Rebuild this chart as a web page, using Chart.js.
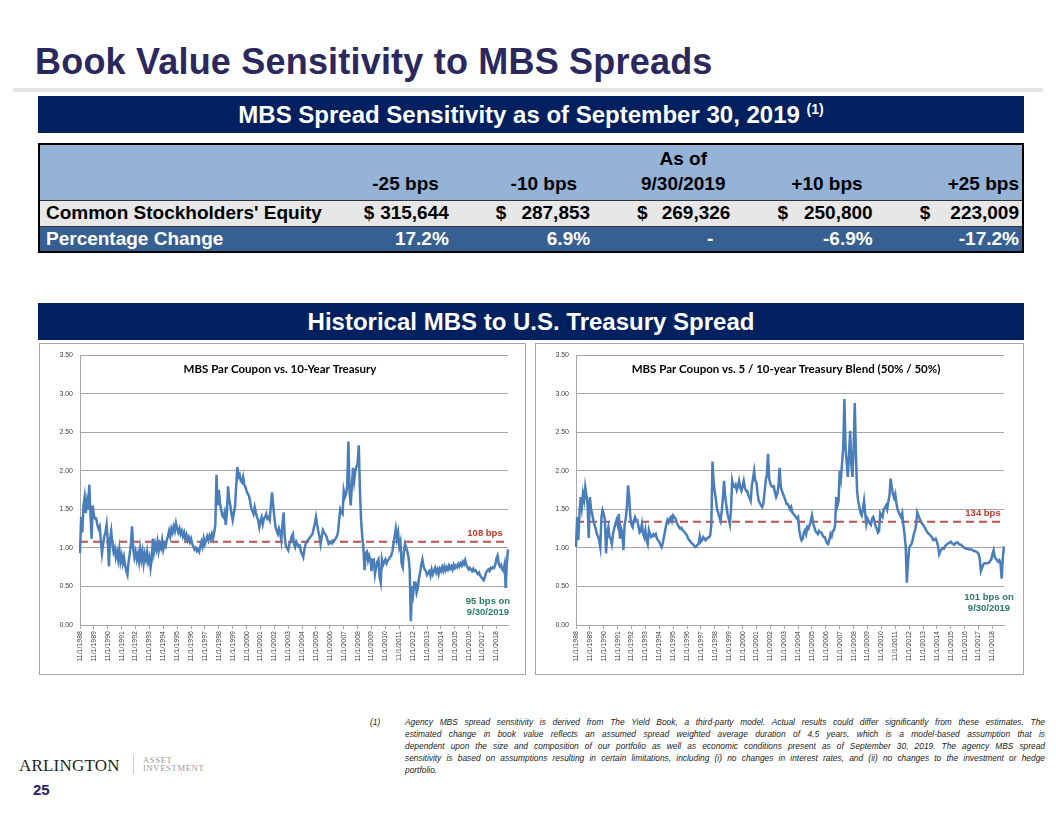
<!DOCTYPE html>
<html>
<head>
<meta charset="utf-8">
<script src="https://cdn.jsdelivr.net/npm/chart.js@4.4.0/dist/chart.umd.min.js"></script>
<style>
  body { margin: 0; width: 1056px; height: 816px; position: relative; background: #fff; overflow: hidden;
         font-family: 'Liberation Sans', Arial, sans-serif; }
  .abs { position: absolute; }
  #title { left: 35px; top: 41px; font-size: 36px; letter-spacing: 0.2px; font-weight: bold; color: #2A285E; white-space: nowrap; }
  #rule { left: 13px; top: 88px; width: 1030px; height: 4px; background: #E4E4E4; }
  .banner { left: 38px; width: 986px; height: 37px; background: #002060; color: #fff; font-weight: bold;
            font-size: 24px; text-align: center; line-height: 37px; white-space: nowrap; }
  .banner sup { font-size: 14px; vertical-align: 9px; line-height: 0; }
  #sens { left: 38px; top: 143px; width: 986px; border-collapse: collapse; border: 2px solid #000;
          font-weight: bold; font-size: 19px; table-layout: fixed; }
  #sens td { padding: 0 3px 0 0; text-align: right; white-space: nowrap; }
  #sens td.lbl { text-align: left; padding-left: 6px; }
  #sens tr.hd { background: #95B3D7; height: 56px; }
  #sens tr.hd td { vertical-align: bottom; padding-bottom: 4px; line-height: 25px; }
  #sens tr.eq { background: #E7E7E7; height: 26px; border-top: 1px solid #333; }
  #sens tr.pc { background: #376092; color: #fff; height: 26px; border-top: 1px solid #333; }
  #sens .acc { display: flex; justify-content: space-between; }
  .box { border: 1px solid #A6A6A6; background: #fff; }
  .box canvas { display: block; }
  #note { left: 370px; top: 716px; font-style: italic; font-size: 8.4px; color: #222; line-height: 12px; }
  #note .ln { width: 640px; margin-left: 35px; text-align: justify; text-align-last: justify; white-space: nowrap; }
  #note .ln.last { text-align-last: left; }
  #note .num { position: absolute; left: 0; top: 0; }
  #logo { left: 19px; top: 756px; font-family: 'Liberation Serif', 'DejaVu Serif', serif; font-size: 17px;
          letter-spacing: 0.2px; color: #231F20; }
  #sep { left: 133px; top: 755px; width: 1px; height: 19px; background: #CFCFCF; }
  #logo2 { left: 143px; top: 757px; font-family: 'Liberation Serif', serif; font-size: 8.5px; line-height: 7.5px;
           color: #9A9A9A; letter-spacing: 0.7px; }
  #page { left: 33px; top: 781px; font-size: 15px; font-weight: bold; color: #262262; }
</style>
</head>
<body>
<div id="title" class="abs">Book Value Sensitivity to MBS Spreads</div>
<div id="rule" class="abs"></div>
<div class="abs banner" style="top:96px">MBS Spread Sensitivity as of September 30, 2019 <sup>(1)</sup></div>
<table id="sens" class="abs"></table>
<div class="abs banner" style="top:303px">Historical MBS to U.S. Treasury Spread</div>

<div class="abs box" style="left:39px; top:343px; width:485px; height:330px;">
  <canvas id="chart10y" width="485" height="330"></canvas>
</div>
<div class="abs box" style="left:535px; top:343px; width:487px; height:330px;">
  <canvas id="chartBlend" width="487" height="330"></canvas>
</div>

<div id="note" class="abs">
  <span class="num">(1)</span>
  <div class="ln">Agency MBS spread sensitivity is derived from The Yield Book, a third-party model. Actual results could differ significantly from these estimates. The</div>
  <div class="ln">estimated change in book value reflects an assumed spread weighted average duration of 4.5 years, which is a model-based assumption that is</div>
  <div class="ln">dependent upon the size and composition of our portfolio as well as economic conditions present as of September 30, 2019. The agency MBS spread</div>
  <div class="ln">sensitivity is based on assumptions resulting in certain limitations, including (i) no changes in interest rates, and (ii) no changes to the investment or hedge</div>
  <div class="ln last">portfolio.</div>
</div>
<div id="logo" class="abs">ARLINGTON</div>
<div id="sep" class="abs"></div>
<div id="logo2" class="abs">ASSET<br>INVESTMENT</div>
<div id="page" class="abs">25</div>

<script>
// table
const scenarios = ['-25 bps', '-10 bps', 'As of\n9/30/2019', '+10 bps', '+25 bps'];
const equity = ['315,644', '287,853', '269,326', '250,800', '223,009'];
const pctChange = ['17.2%', '6.9%', '-', '-6.9%', '-17.2%'];
const colWidths = [320, 92, 141, 140, 142, 147];

// chart data, monthly from 11/1988 to 9/2019 (percent)
const spread10y = [
  0.93, 1.40,
  1.20, 1.55, 1.66, 1.45, 1.60, 1.50, 1.82, 1.45, 1.12, 1.55, 1.42, 1.38, // 1989
  1.38, 1.30, 1.25, 1.28, 1.10, 0.93, 1.05, 1.15, 1.20, 1.30, 1.10, 0.76, // 1990
  1.12, 1.22, 1.05, 0.95, 1.00, 0.88, 0.95, 0.85, 0.98, 0.82, 0.90, 0.80, // 1991
  0.88, 0.78, 0.70, 0.65, 0.82, 0.92, 1.05, 1.28, 1.00, 0.88, 0.95, 0.85, // 1992
  0.92, 0.82, 0.98, 0.85, 0.95, 0.80, 0.92, 0.85, 0.95, 0.82, 0.88, 0.74, // 1993
  0.85, 1.12, 0.95, 1.05, 0.98, 1.08, 0.96, 1.05, 1.00, 1.10, 0.98, 1.05, // 1994
  1.02, 1.10, 1.15, 1.22, 1.15, 1.25, 1.20, 1.28, 1.22, 1.32, 1.25, 1.20, // 1995
  1.25, 1.18, 1.22, 1.15, 1.20, 1.12, 1.17, 1.10, 1.14, 1.08, 1.12, 1.05, // 1996
  1.02, 0.98, 1.00, 0.96, 0.98, 0.95, 1.02, 1.08, 1.02, 1.12, 1.05, 1.10, // 1997
  1.15, 1.10, 1.16, 1.12, 1.18, 1.12, 1.20, 1.30, 1.95, 1.55, 1.75, 1.58, // 1998
  1.50, 1.42, 1.40, 1.46, 1.30, 1.45, 1.80, 1.62, 1.55, 1.44, 1.36, 1.45, // 1999
  1.53, 1.80, 2.05, 1.92, 1.95, 1.87, 1.85, 1.92, 1.82, 1.79, 1.74, 1.70, // 2000
  1.68, 1.61, 1.52, 1.48, 1.44, 1.53, 1.46, 1.40, 1.36, 1.27, 1.35, 1.40, // 2001
  1.31, 1.38, 1.40, 1.44, 1.38, 1.40, 1.36, 1.55, 1.72, 1.55, 1.40, 1.27, // 2002
  1.22, 1.18, 1.25, 1.20, 1.10, 1.30, 1.46, 1.14, 1.02, 1.00, 0.97, 1.05, // 2003
  1.08, 1.15, 1.18, 1.05, 1.01, 1.08, 1.05, 1.02, 1.03, 0.95, 0.92, 0.88, // 2004
  0.98, 1.05, 1.08, 1.10, 1.12, 1.14, 1.16, 1.18, 1.25, 1.32, 1.40, 1.30, // 2005
  1.22, 1.15, 1.05, 1.15, 1.23, 1.20, 1.18, 1.15, 1.10, 1.05, 1.06, 1.08, // 2006
  1.06, 1.10, 1.10, 1.12, 1.15, 1.20, 1.36, 1.50, 1.46, 1.44, 1.74, 1.66, // 2007
  1.70, 1.80, 2.38, 1.74, 1.55, 1.80, 2.04, 1.87, 2.00, 2.05, 2.10, 2.33, // 2008
  1.74, 1.36, 1.15, 1.00, 0.71, 0.93, 0.95, 0.84, 0.90, 0.85, 0.70, 0.85, // 2009
  0.85, 0.66, 0.75, 0.82, 0.85, 0.62, 0.55, 0.85, 0.78, 0.82, 0.85, 0.80, // 2010
  0.84, 0.85, 0.88, 0.90, 0.95, 1.05, 1.15, 1.25, 1.12, 1.20, 1.02, 1.08, // 2011
  0.80, 0.75, 0.95, 1.05, 1.00, 0.95, 0.88, 0.72, 0.05, 0.50, 0.40, 0.55, // 2012
  0.55, 0.42, 0.48, 0.60, 0.68, 0.78, 0.85, 0.76, 0.72, 0.70, 0.65, 0.68, // 2013
  0.70, 0.64, 0.72, 0.66, 0.70, 0.74, 0.68, 0.72, 0.66, 0.73, 0.70, 0.75, // 2014
  0.70, 0.76, 0.71, 0.75, 0.72, 0.77, 0.73, 0.76, 0.72, 0.78, 0.74, 0.77, // 2015
  0.75, 0.79, 0.76, 0.80, 0.77, 0.82, 0.79, 0.84, 0.78, 0.75, 0.72, 0.74, // 2016
  0.72, 0.70, 0.73, 0.70, 0.71, 0.68, 0.66, 0.68, 0.64, 0.62, 0.60, 0.58, // 2017
  0.62, 0.68, 0.70, 0.72, 0.70, 0.74, 0.73, 0.75, 0.74, 0.78, 0.86, 0.90, // 2018
  0.80, 0.76, 0.78, 0.72, 0.70, 0.78, 0.48, 0.80, 0.98                    // 2019
];
const spreadBlend = [
  1.01, 1.40,
  1.10, 1.44, 1.66, 1.53, 1.70, 1.62, 1.79, 1.68, 1.57, 1.13, 1.66, 1.50, // 1989
  1.44, 1.36, 1.30, 1.25, 1.18, 1.15, 1.10, 1.01, 1.40, 1.49, 1.44, 1.36, // 1990
  0.93, 1.20, 1.27, 1.14, 1.12, 1.05, 1.18, 1.25, 1.31, 1.36, 1.30, 1.44, // 1991
  1.12, 1.25, 1.20, 0.97, 1.30, 1.38, 1.53, 1.81, 1.66, 1.40, 1.30, 1.27, // 1992
  1.35, 1.40, 1.36, 1.36, 1.28, 1.20, 1.22, 1.31, 1.18, 1.14, 1.23, 1.10, // 1993
  1.05, 1.23, 1.18, 1.14, 1.15, 1.18, 1.16, 1.18, 1.12, 1.10, 1.08, 1.04, // 1994
  1.01, 1.06, 1.14, 1.22, 1.30, 1.36, 1.33, 1.38, 1.40, 1.35, 1.42, 1.40, // 1995
  1.38, 1.33, 1.30, 1.27, 1.25, 1.26, 1.23, 1.22, 1.20, 1.18, 1.16, 1.12, // 1996
  1.10, 1.08, 1.06, 1.05, 1.03, 1.01, 1.02, 1.04, 1.05, 1.15, 1.08, 1.10, // 1997
  1.14, 1.12, 1.10, 1.12, 1.13, 1.14, 1.16, 1.30, 2.12, 1.85, 1.72, 1.62, // 1998
  1.50, 1.45, 1.40, 1.35, 1.48, 1.65, 1.87, 1.66, 1.55, 1.44, 1.38, 1.31, // 1999
  1.50, 1.87, 1.80, 1.79, 1.82, 1.75, 1.80, 1.87, 1.78, 1.74, 1.80, 1.87, // 2000
  1.78, 1.74, 1.74, 1.68, 1.65, 1.61, 1.80, 1.90, 2.00, 1.87, 1.85, 1.70, // 2001
  1.61, 1.58, 1.55, 1.53, 1.58, 1.72, 1.87, 1.95, 2.22, 1.90, 1.83, 1.80, // 2002
  1.79, 1.80, 1.72, 1.66, 1.70, 1.80, 2.04, 1.80, 1.74, 1.70, 1.66, 1.62, // 2003
  1.57, 1.57, 1.54, 1.50, 1.53, 1.46, 1.44, 1.42, 1.40, 1.38, 1.40, 1.23, // 2004
  1.15, 1.10, 1.12, 1.20, 1.23, 1.18, 1.27, 1.25, 1.30, 1.35, 1.42, 1.32, // 2005
  1.27, 1.22, 1.20, 1.18, 1.22, 1.20, 1.20, 1.17, 1.14, 1.14, 1.10, 1.06, // 2006
  1.05, 1.10, 1.18, 1.15, 1.22, 1.23, 1.30, 1.66, 1.55, 1.61, 2.00, 1.90, // 2007
  2.09, 2.30, 2.93, 2.30, 2.10, 1.92, 2.20, 2.52, 2.09, 1.92, 2.30, 2.88, // 2008
  2.20, 1.74, 1.60, 1.53, 1.45, 1.42, 1.50, 1.61, 1.45, 1.31, 1.38, 1.35, // 2009
  1.32, 1.30, 1.38, 1.40, 1.35, 1.28, 1.25, 1.20, 1.22, 1.45, 1.42, 1.40, // 2010
  1.50, 1.52, 1.55, 1.50, 1.60, 1.68, 1.90, 1.78, 1.70, 1.65, 1.70, 1.58, // 2011
  1.50, 1.46, 1.43, 1.40, 1.45, 1.30, 1.18, 1.02, 0.55, 0.80, 1.00, 1.03, // 2012
  1.05, 1.10, 1.18, 1.22, 1.30, 1.46, 1.42, 1.38, 1.35, 1.32, 1.30, 1.28, // 2013
  1.25, 1.22, 1.20, 1.18, 1.17, 1.15, 1.13, 1.10, 1.11, 1.12, 1.08, 1.02, // 2014
  0.92, 0.96, 0.98, 1.00, 0.99, 1.02, 1.04, 1.05, 1.06, 1.07, 1.08, 1.06, // 2015
  1.05, 1.04, 1.06, 1.07, 1.07, 1.05, 1.04, 1.04, 1.02, 1.01, 1.00, 0.99, // 2016
  0.99, 0.99, 0.98, 0.98, 0.98, 0.97, 0.96, 0.96, 0.95, 0.94, 0.92, 0.86, // 2017
  0.70, 0.74, 0.78, 0.80, 0.80, 0.80, 0.80, 0.81, 0.83, 0.85, 0.92, 0.97, // 2018
  0.88, 0.86, 0.84, 0.82, 0.84, 0.80, 0.60, 0.88, 1.02                    // 2019
];
const avg10y = 1.08;
const avgBlend = 1.34;
const yTicks = [0, 0.5, 1.0, 1.5, 2.0, 2.5, 3.0, 3.5];

// month categories 11/1/1988 .. 9/1/2019
const months = [];
for (let y = 1988, m = 11; y < 2019 || m <= 9; ) {
  months.push(m + '/1/' + y);
  if (++m > 12) { m = 1; y++; }
}

// build the table
const tbl = document.getElementById('sens');
const cg = document.createElement('colgroup');
colWidths.forEach(w => { const c = document.createElement('col'); c.style.width = w + 'px'; cg.appendChild(c); });
tbl.appendChild(cg);

function row(cls, label) {
  const tr = tbl.insertRow();
  tr.className = cls;
  const l = tr.insertCell(); l.className = 'lbl'; l.textContent = label;
  return tr;
}
const hdPad = [13, 16, 0, 13, 3];
const hr = row('hd', '');
scenarios.forEach((s, i) => {
  const td = hr.insertCell();
  td.innerHTML = s.replace('\n', '<br>');
  td.style.paddingRight = hdPad[i] + 'px';
  if (i === 2) { td.style.textAlign = 'center'; td.style.paddingLeft = '40px'; }
});
const er = row('eq', "Common Stockholders' Equity");
equity.forEach((v, i) => {
  const td = er.insertCell();
  td.innerHTML = '<div class="acc"><span>$</span><span>' + v + '</span></div>';
  td.style.paddingLeft = (i === 0 ? 4 : 44) + 'px';
});
const pr = row('pc', 'Percentage Change');
pctChange.forEach((v, i) => {
  const td = pr.insertCell();
  td.textContent = v;
  if (i === 2) td.style.paddingRight = '20px';
});

// title and labels drawn inside the plot area
const overlay = {
  id: 'overlay',
  afterDatasetsDraw(chart, args, o) {
    const { ctx, chartArea: a, scales: { y } } = chart;
    ctx.save();
    ctx.textAlign = 'center';
    ctx.font = 'bold 11.5px Lato';
    ctx.fillStyle = '#000';
    ctx.fillText(o.title, (a.left + a.right) / 2 + o.titleDx, a.top + 18);
    ctx.font = 'bold 9.5px "Liberation Sans"';
    ctx.fillStyle = '#C0392B';
    ctx.fillText(o.avgText, a.right - o.avgDx, y.getPixelForValue(o.avg) - 6);
    ctx.fillStyle = '#2B7A6B';
    ctx.fillText(o.lastText[0], a.right - o.lastDx, y.getPixelForValue(o.lastY));
    ctx.fillText(o.lastText[1], a.right - o.lastDx, y.getPixelForValue(o.lastY) + 11);
    ctx.restore();
  }
};

function makeChart(id, values, avg, padRight, ov) {
  return new Chart(id, {
    type: 'line',
    data: {
      labels: months,
      datasets: [
        { data: values, borderColor: '#4A7EBB', borderWidth: 2.5, pointRadius: 0, tension: 0 },
        { data: months.map(() => avg), borderColor: '#C0504D', borderWidth: 2, borderDash: [8, 5],
          pointRadius: 0 }
      ]
    },
    options: {
      responsive: false,
      animation: false,
      layout: { padding: { top: 10, right: padRight, left: 0, bottom: 0 } },
      plugins: { legend: { display: false }, tooltip: { enabled: false }, overlay: ov },
      scales: {
        x: {
          offset: false,
          grid: { drawOnChartArea: false, tickLength: 4, color: '#A6A6A6' },
          border: { color: '#A6A6A6' },
          ticks: {
            autoSkip: false, minRotation: 90, maxRotation: 90, padding: 2,
            color: '#404040', font: { size: 7, family: 'Liberation Sans' },
            callback(v) {
              const l = this.getLabelForValue(v);
              return l.startsWith('11/') ? l : null;
            }
          },
          afterFit(s) { s.height = 49; }
        },
        y: {
          min: 0, max: 3.5,
          afterBuildTicks(s) { s.ticks = yTicks.map(v => ({ value: v })); },
          grid: { color: '#A6A6A6', drawTicks: false },
          border: { color: '#A6A6A6' },
          ticks: { padding: 7, color: '#404040', font: { size: 7, family: 'Liberation Sans' },
                   callback: v => v.toFixed(2) },
          afterFit(s) { s.width = 40; }
        }
      }
    },
    plugins: [overlay]
  });
}

makeChart('chart10y', spread10y, avg10y, 17, {
  title: 'MBS Par Coupon vs. 10-Year Treasury', titleDx: -14,
  avg: avg10y, avgText: '108 bps', avgDx: 23,
  lastY: 0.27, lastText: ['95 bps on', '9/30/2019'], lastDx: 20
});
makeChart('chartBlend', spreadBlend, avgBlend, 19, {
  title: 'MBS Par Coupon vs. 5 / 10-year Treasury Blend (50% / 50%)', titleDx: -4,
  avg: avgBlend, avgText: '134 bps', avgDx: 21,
  lastY: 0.32, lastText: ['101 bps on', '9/30/2019'], lastDx: 15
});
</script>
</body>
</html>
